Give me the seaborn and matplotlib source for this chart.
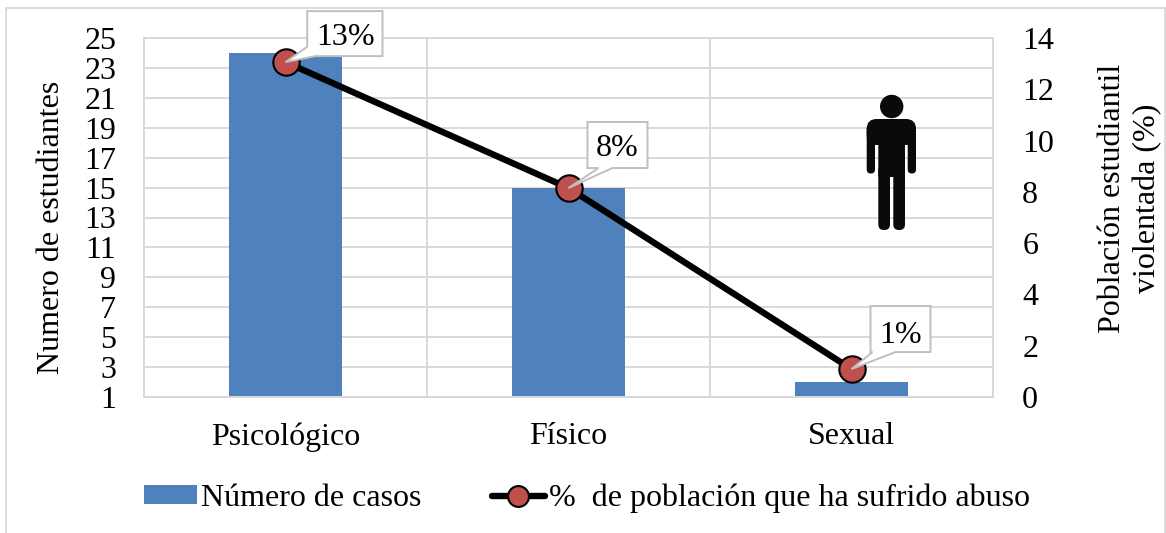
"""Casos de abuso por tipo y porcentaje de población estudiantil violentada."""

import matplotlib
matplotlib.use('Agg')
import matplotlib.pyplot as plt
import pandas as pd
import seaborn as sns
from matplotlib.lines import Line2D
from matplotlib.patches import Circle, FancyBboxPatch, Patch, PathPatch, Polygon
from matplotlib.path import Path
from matplotlib.transforms import Affine2D

categorias = ['Psicológico', 'Físico', 'Sexual']
num_casos = [24, 15, 2]
pct_poblacion = [13.06, 8.15, 1.09]
etiquetas_pct = ['13%', '8%', '1%']

ticks_izq = list(range(1, 26, 2))
ticks_der = list(range(0, 15, 2))

ANCHO, ALTO = 1166, 533
AZUL = '#4F81BD'
ROJO = '#C0504D'
GRIS = '#D9D9D9'
GRIS_CAJA = '#BFBFBF'
LETRA = 23

sns.set_theme(style='white')
plt.rcParams['font.family'] = ['Liberation Serif', 'DejaVu Serif']
plt.rcParams['text.color'] = 'black'
plt.rcParams['xtick.color'] = 'black'
plt.rcParams['ytick.color'] = 'black'

fig = plt.figure(figsize=(ANCHO / 100, ALTO / 100), dpi=100)
ax = fig.add_axes([144 / ANCHO, 1 - 397 / ALTO, 849 / ANCHO, 359 / ALTO])
ax2 = ax.twinx()

df = pd.DataFrame({'tipo': categorias, 'casos': num_casos, 'pct': pct_poblacion})

sns.barplot(data=df, x='tipo', y='casos', color=AZUL, saturation=1, width=0.4, ax=ax, zorder=3,
            edgecolor='none', linewidth=0)
sns.lineplot(data=df, x='tipo', y='pct', color='black', linewidth=4.6, marker='o', markersize=19,
             markerfacecolor=ROJO, markeredgecolor='black', markeredgewidth=1.5,
             sort=False, ax=ax2, zorder=5)

ax.set_xlim(-0.5, 2.5)
ax.set_ylim(1, 25)
ax.set_yticks(ticks_izq)
ax2.set_ylim(0, 14)
ax2.set_yticks(ticks_der)
ax.set_xlabel('')
ax.set_ylabel('')
ax2.set_ylabel('')

ax.grid(True, axis='y', color=GRIS, linewidth=1.4, zorder=0)
for borde in [0.5, 1.5]:
    ax.axvline(borde, color=GRIS, linewidth=1.4, zorder=0)
ax.set_axisbelow(True)

for eje in [ax, ax2]:
    for lado in eje.spines.values():
        lado.set_color(GRIS)
        lado.set_linewidth(1.4)
ax.tick_params(axis='x', length=0, pad=18, labelsize=LETRA)
ax.tick_params(axis='y', length=0, pad=20, labelsize=LETRA)
ax2.tick_params(axis='y', length=0, pad=21, labelsize=LETRA)

fig.text(52 / ANCHO, 1 - 227 / ALTO, 'Numero de estudiantes', rotation=90, fontsize=LETRA,
         ha='center', va='center')
fig.text(1130 / ANCHO, 1 - 198 / ALTO, 'Población estudiantil\nviolentada (%)', rotation=90,
         fontsize=LETRA, ha='center', va='center', linespacing=1.3, multialignment='center')

# Globos de las etiquetas: caja y pico relativos al punto, en píxeles (y hacia abajo)
globos = [
    ((21.7, 97), (-51, -6), [(21.7, -15.3), (30, -6)], (60, -25)),
    ((19, 79), (-66, -20), [(30, -20), (44, -20)], (49, -40)),
    ((19, 79), (-63, -17), [(21, -17), (44, -17)], (49, -34)),
]
fig.canvas.draw()
for i, (etiqueta, globo) in enumerate(zip(etiquetas_pct, globos)):
    (x0, x1), (y0, y1), pico, centro = globo
    px, py = ax2.transData.transform((i, pct_poblacion[i]))
    py = ALTO - py
    if i == 0:
        vertices = [(x0, y0), (x1, y0), (x1, y1), pico[1], (0, 0), pico[0], (x0, y0)]
    else:
        vertices = [(x0, y0), (x1, y0), (x1, y1), pico[1], (0, 0), pico[0], (x0, y1), (x0, y0)]
    puntos = [((px + dx) / ANCHO, 1 - (py + dy) / ALTO) for dx, dy in vertices]
    fig.add_artist(Polygon(puntos, closed=True, facecolor='white', edgecolor=GRIS_CAJA,
                           linewidth=1.4, transform=fig.transFigure, zorder=6))
    fig.text((px + centro[0]) / ANCHO, 1 - (py + centro[1]) / ALTO, etiqueta, fontsize=LETRA,
             ha='center', va='center', zorder=7)

# Figura humana, dibujada en píxeles de la imagen
a_figura = Affine2D().scale(1 / ANCHO, -1 / ALTO).translate(0, 1) + fig.transFigure


def pieza(x0, y0, x1, y1, radio):
    fig.add_artist(FancyBboxPatch((x0 + radio, y0 + radio), x1 - x0 - 2 * radio, y1 - y0 - 2 * radio,
                                  boxstyle=f'round,pad={radio},rounding_size={radio}',
                                  facecolor='#0A0A0A', edgecolor='none', transform=a_figura, zorder=4))


fig.add_artist(Circle((891.7, 106.5), 11.7, facecolor='#0A0A0A', edgecolor='none',
                      transform=a_figura, zorder=4))
pieza(866.7, 119, 916, 145, 10)
pieza(866.7, 125, 875, 173.5, 4)
pieza(907.7, 125, 916, 173.5, 4)
pieza(878.3, 125, 905, 177, 1)
pieza(878.3, 165, 890, 230, 5.5)
pieza(893.3, 165, 905, 230, 5.5)

# Marco exterior abierto por abajo
marco = Path([(6, ALTO), (6, 7.5), (1165, 7.5), (1165, ALTO)],
             [Path.MOVETO, Path.LINETO, Path.LINETO, Path.LINETO])
fig.add_artist(PathPatch(marco, facecolor='none', edgecolor=GRIS, linewidth=1.3,
                         transform=a_figura, zorder=1))

manejadores = [
    Patch(facecolor=AZUL, edgecolor='none', label='Número de casos'),
    Line2D([0], [0], color='black', linewidth=4.6, marker='o', markersize=15,
           markerfacecolor=ROJO, markeredgecolor='black', markeredgewidth=1.5,
           label='%  de población que ha sufrido abuso'),
]
fig.legend(handles=manejadores, ncols=2, frameon=False, fontsize=LETRA, handlelength=1.65,
           handleheight=0.5, handletextpad=0.14, columnspacing=2.2, loc='center',
           bbox_to_anchor=(587 / ANCHO, 1 - 498 / ALTO), borderpad=0, borderaxespad=0)

fig.savefig('out.png', dpi=100)
plt.close(fig)
